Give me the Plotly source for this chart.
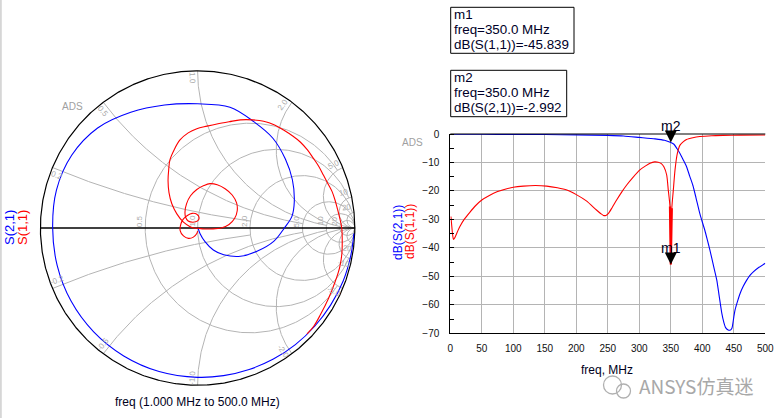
import numpy as np
import plotly.graph_objects as go

W, H = 778, 418

# ---------------- data ----------------
# Smith chart traces (reflection coefficient plane)
s21_re = [0.994, 0.975, 0.926, 0.847, 0.745, 0.622, 0.482, 0.328, 0.165, 0.0,
          -0.245, -0.47, -0.661, -0.805, -0.893, -0.922, -0.898, -0.801, -0.636,
          -0.425, -0.21, 0.0, 0.206, 0.359, 0.479, 0.559, 0.603, 0.615, 0.600,
          0.552, 0.484, 0.378, 0.272, 0.166, 0.1, 0.047, 0.015, 0.004]
s21_im = [-0.035, -0.172, -0.337, -0.489, -0.625, -0.742, -0.834, -0.900, -0.939, -0.95,
          -0.913, -0.814, -0.661, -0.465, -0.239, 0.0, 0.241, 0.4625, 0.636,
          0.736, 0.782, 0.79, 0.768, 0.675, 0.571, 0.437, 0.307, 0.165, 0.074,
          0.0, -0.085, -0.148, -0.18, -0.17, -0.14, -0.087, -0.035, -0.003]

s11_re = [0.0, -0.005, -0.027, -0.058, -0.09, -0.111, -0.105, -0.09, -0.065, -0.035, -0.005, 0.01, 0.0, -0.03, -0.06, -0.077,
          -0.08, -0.07, -0.045, -0.005, 0.04, 0.079, 0.125, 0.175, 0.22, 0.248, 0.252, 0.235, 0.2, 0.15, 0.09, 0.04, 0.005,
          -0.025, -0.05, -0.09, -0.132, -0.164, -0.182, -0.188, -0.184, -0.176, -0.148, -0.112, -0.06, -0.005, 0.06, 0.123,
          0.2, 0.272, 0.35, 0.42, 0.49, 0.547, 0.605, 0.653, 0.7, 0.738, 0.772, 0.801, 0.83, 0.855, 0.875, 0.89, 0.905,
          0.917, 0.92, 0.918, 0.905, 0.876, 0.834, 0.781, 0.739, 0.696]
s11_im = [-0.02, -0.035, -0.058, -0.066, -0.05, -0.016, 0.03, 0.058, 0.08, 0.093, 0.088, 0.065, 0.045, 0.037, 0.045, 0.07,
          0.105, 0.155, 0.205, 0.245, 0.27, 0.282, 0.275, 0.25, 0.21, 0.16, 0.11, 0.06, 0.022, 0.0, -0.006, -0.006, -0.002,
          0.0, 0.01, 0.037, 0.09, 0.154, 0.225, 0.3, 0.37, 0.433, 0.5, 0.56, 0.605, 0.632, 0.648, 0.662,
          0.676, 0.688, 0.688, 0.679, 0.655, 0.623, 0.585, 0.547, 0.495, 0.441, 0.39, 0.335, 0.28, 0.233, 0.175, 0.12, 0.06,
          0.0, -0.08, -0.16, -0.245, -0.339, -0.445, -0.552, -0.625, -0.674]

# Rectangular plot (freq in MHz, dB)
freq_s21 = [1, 50, 100, 150, 200, 250, 275, 300, 325, 340, 350, 355, 360, 365, 370, 375, 380, 385,
            390, 396, 400, 404, 408, 412, 418, 423, 427, 431, 434, 437, 441, 444, 447, 450, 452,
            456, 460, 465, 470, 475, 481, 490, 500]
db_s21 = [-0.1, -0.1, -0.15, -0.2, -0.3, -0.5, -0.7, -1.2, -1.7, -2.2, -2.99, -3.6, -5.2, -7.0, -9.2,
          -11.5, -14.8, -18.0, -22.4, -27.9, -30.9, -33.8, -37.2, -40.7, -46.5, -51.3, -57.2, -63.0,
          -66.0, -68.0, -68.8, -68.9, -68.2, -64.3, -61.8, -58.7, -56.0, -53.5, -51.5, -49.8, -48.4,
          -46.8, -45.4]

freq_s11 = [1, 2, 3.5, 5, 7, 10, 15, 22, 31, 40, 50, 62, 74, 87, 100, 116, 135, 153, 170, 185, 200,
            216, 232, 239, 243, 247, 251, 257, 264, 272, 280, 290, 301, 310, 317, 324, 330, 335, 339,
            343.5, 346, 348.7, 350, 351.6, 354, 356.7, 360.4, 364.6, 370, 375, 385, 396, 415, 433, 460, 500]
db_s11 = [-29, -31.5, -35, -37, -36.5, -35, -32.6, -30, -27.5, -25.2, -23.2, -21.6, -20.3, -19.4,
          -18.7, -18.3, -18.1, -18.3, -18.9, -19.7, -21.3, -23.5, -26.7, -28, -28.6, -28.6, -27.9,
          -25.8, -23.2, -20.4, -17.9, -15.2, -12.6, -11.2, -10.3, -9.8, -9.9, -10.4, -11.5, -14.4,
          -19.7, -25.5, -45.839, -26.1, -19.7, -12.6, -6.8, -3.9, -2.7, -1.9, -1.3, -0.9, -0.6, -0.5,
          -0.4, -0.35]

marker_names = ["m1", "m2"]
marker_freq = [350.0, 350.0]
marker_db = [-45.839, -2.992]
marker_lines = [["m1", "freq=350.0 MHz", "dB(S(1,1))=-45.839"],
                ["m2", "freq=350.0 MHz", "dB(S(2,1))=-2.992"]]

x_tickvals = [0, 50, 100, 150, 200, 250, 300, 350, 400, 450, 500]
y_tickvals = [0, -10, -20, -30, -40, -50, -60, -70]

# Smith grid values
r_grid = [0.5, 1.0, 2.0, 5.0, 10.0, 20.0]
r_grid_labels = ["0.5", "1.0", "2.0", "5.0", "10", "20"]
r_grid_xmax = [5.0, 10.0, 20.0, 1e4, 1e4, 1e4]
x_grid = [0.2, 0.5, 1.0, 2.0, 5.0, 10.0, 20.0]
x_grid_labels = ["0.2", "0.5", "1.0", "2.0", "5.0", "10", "20"]
x_grid_rmax = [2.0, 5.0, 10.0, 20.0, 1e4, 1e4, 1e4]

# ---------------- layout geometry ----------------
cx, cy, R = 197.6, 228.0, 157.2
ext = 1.06
sx_dom = [(cx - ext * R) / W, (cx + ext * R) / W]
sy_dom = [1 - (cy + ext * R) / H, 1 - (cy - ext * R) / H]
rx_dom = [450.3 / W, 765.3 / W]
ry_dom = [1 - 333.3 / H, 1 - 134.0 / H]


def P(x, y):
    return x / W, 1 - y / H


GRID = "#b4b4b4"
FONT = "Liberation Sans, Arial, sans-serif"

fig = go.Figure()

# Smith grid
gx, gy = [], []
for r, xm in zip(r_grid, r_grid_xmax):
    t = np.linspace(-np.arctan(xm), np.arctan(xm), 400)
    z = r + 1j * np.tan(t)
    g = (z - 1) / (z + 1)
    gx += list(g.real) + [None]
    gy += list(g.imag) + [None]
for xv, rm in zip(x_grid, x_grid_rmax):
    for s in (1, -1):
        t = np.linspace(0, np.arctan(rm), 400)
        z = np.tan(t) + 1j * s * xv
        g = (z - 1) / (z + 1)
        gx += list(g.real) + [None]
        gy += list(g.imag) + [None]
fig.add_trace(go.Scatter(x=gx, y=gy, mode="lines", line=dict(color=GRID, width=1),
                         hoverinfo="skip", showlegend=False, xaxis="x", yaxis="y"))
# real axis
fig.add_trace(go.Scatter(x=[-1, 1], y=[0, 0], mode="lines", line=dict(color="black", width=1.3),
                         hoverinfo="skip", showlegend=False, xaxis="x", yaxis="y"))
# outer circle
th = np.linspace(0, 2 * np.pi, 721)
fig.add_trace(go.Scatter(x=np.cos(th), y=np.sin(th), mode="lines", line=dict(color="black", width=1.2),
                         hoverinfo="skip", showlegend=False, xaxis="x", yaxis="y"))
# traces
fig.add_trace(go.Scatter(x=s21_re, y=s21_im, mode="lines",
                         line=dict(color="#0000ff", width=1.1, shape="spline", smoothing=1.0),
                         showlegend=False, xaxis="x", yaxis="y"))
fig.add_trace(go.Scatter(x=s11_re, y=s11_im, mode="lines",
                         line=dict(color="#ff0000", width=1.1, shape="spline", smoothing=1.0),
                         showlegend=False, xaxis="x", yaxis="y"))

# Rectangular plot traces
fig.add_trace(go.Scatter(x=freq_s21, y=db_s21, mode="lines",
                         line=dict(color="#0000ff", width=1.1, shape="spline", smoothing=0.6),
                         showlegend=False, xaxis="x2", yaxis="y2"))
fig.add_trace(go.Scatter(x=freq_s11, y=db_s11, mode="lines",
                         line=dict(color="#ff0000", width=1.1, shape="spline", smoothing=0.6),
                         showlegend=False, xaxis="x2", yaxis="y2"))
# the deep notch is drawn heavier in the reference
dip_f = [f for f in freq_s11 if 348 <= f <= 352]
dip_d = [d for f, d in zip(freq_s11, db_s11) if 348 <= f <= 352]
fig.add_trace(go.Scatter(x=dip_f, y=dip_d, mode="lines", line=dict(color="#ff0000", width=2.2),
                         showlegend=False, xaxis="x2", yaxis="y2"))

ann = []
# Smith labels
for r, lab in zip(r_grid, r_grid_labels):
    ann.append(dict(x=(r - 1) / (r + 1), y=0, xref="x", yref="y", text=lab, showarrow=False,
                    xshift=-5, yshift=7, textangle=-90, font=dict(size=8, color="#aaaaaa", family=FONT)))
for xv, lab in zip(x_grid, x_grid_labels):
    for s in (1, -1):
        g = (1j * s * xv - 1) / (1j * s * xv + 1)
        ang = np.degrees(np.angle(g)) + 2.2 * s
        rad = 0.955
        ta = -ang
        if ta < -90:
            ta += 180
        if ta > 90:
            ta -= 180
        ann.append(dict(x=rad * np.cos(np.radians(ang)), y=rad * np.sin(np.radians(ang)),
                        xref="x", yref="y", text=(lab if s > 0 else "-" + lab), showarrow=False,
                        textangle=ta, font=dict(size=8, color="#aaaaaa", family=FONT)))


def txt(x, y, text, size=12, color="black", angle=0, xanchor="center", family=FONT):
    px, py = P(x, y)
    ann.append(dict(x=px, y=py, xref="paper", yref="paper", text=text, showarrow=False,
                    textangle=angle, xanchor=xanchor, yanchor="middle",
                    font=dict(size=size, color=color, family=family)))


txt(72, 106, "ADS", 10, "#a0a0a0")
txt(412, 142, "ADS", 10, "#a0a0a0")
txt(10, 228, "S(2,1)", 13, "#0000ff", -90)
txt(23, 228, "S(1,1)", 13, "#ff0000", -90)
txt(197.6, 402, "freq (1.000 MHz to 500.0 MHz)", 12, "#000020")
txt(398, 232, "dB(S(2,1))", 12, "#0000ff", -90)
txt(410, 232, "dB(S(1,1))", 12, "#ff0000", -90)
txt(607, 370, "freq, MHz", 12, "#000020")

# marker readouts
box_y = [(7.3, 53.3), (70.3, 116.7)]
box_x1 = [574.0, 566.7]
shapes = []
for (y0, y1), x1, lines in zip(box_y, box_x1, marker_lines):
    a0, b0 = P(450.7, y0)
    a1, b1 = P(x1, y1)
    shapes.append(dict(type="rect", xref="paper", yref="paper", x0=a0, x1=a1, y0=b1, y1=b0,
                       line=dict(color="black", width=1)))
    for k, line in enumerate(lines):
        txt(452.0, y0 + 7.5 + k * 15.0, line, 13.4, "#000028", 0, "left")

# marker arrows
for name, f, d in zip(marker_names, marker_freq, marker_db):
    ann.append(dict(x=f, y=d, xref="x2", yref="y2", text=name, showarrow=True, ax=0, ay=-17,
                    arrowhead=2, arrowsize=1.6, arrowwidth=1.5, arrowcolor="black", standoff=0,
                    font=dict(size=14, color="#000020", family=FONT)))

# watermark
txt(696, 385, "ANSYS仿真迷", 19, "#a8a8a8", 0, "center", "Noto Sans CJK SC")
for (ccx, ccy, rr) in [(612.5, 385.0, 9.0), (623.5, 391.0, 7.0)]:
    a0, b0 = P(ccx - rr, ccy - rr)
    a1, b1 = P(ccx + rr, ccy + rr)
    shapes.append(dict(type="circle", xref="paper", yref="paper", x0=a0, x1=a1, y0=b1, y1=b0,
                       line=dict(color="#b0b0b0", width=1.3)))
# plot top border and left page edge
shapes.append(dict(type="line", xref="x2 domain", yref="y2 domain", x0=0, x1=1, y0=1, y1=1,
                   line=dict(color="black", width=1)))
shapes.append(dict(type="line", xref="paper", yref="paper", x0=0.8 / W, x1=0.8 / W, y0=0, y1=1,
                   line=dict(color="#d6d6d6", width=2)))

tickfont = dict(size=10, color="#101010", family=FONT)
fig.update_layout(
    width=W, height=H, autosize=False,
    margin=dict(l=0, r=0, t=0, b=0, pad=0, autoexpand=False),
    paper_bgcolor="white", plot_bgcolor="white",
    xaxis=dict(domain=sx_dom, range=[-ext, ext], visible=False, fixedrange=True, automargin=False),
    yaxis=dict(domain=sy_dom, range=[-ext, ext], visible=False, fixedrange=True, automargin=False),
    xaxis2=dict(domain=rx_dom, range=[0, 500], anchor="y2", tickvals=x_tickvals,
                showgrid=True, gridcolor=GRID, gridwidth=1, zeroline=False,
                showline=True, linecolor="black", linewidth=1, ticks="", automargin=False,
                tickfont=tickfont, ticklabelstandoff=6),
    yaxis2=dict(domain=ry_dom, range=[-70, 0], anchor="x2", tickvals=y_tickvals,
                showgrid=True, gridcolor=GRID, gridwidth=1, zeroline=False,
                showline=True, linecolor="black", linewidth=1, ticks="", automargin=False,
                minor=dict(dtick=5, ticks="inside", ticklen=4, tickcolor="black", showgrid=False),
                tickfont=tickfont, ticklabelstandoff=8),
    annotations=ann, shapes=shapes, showlegend=False,
)

fig.write_html("out.html",
               config={"displayModeBar": False, "responsive": False},
               post_script="document.body.style.margin='0px';document.body.style.padding='0px';"
                           "document.documentElement.style.overflow='hidden';")
